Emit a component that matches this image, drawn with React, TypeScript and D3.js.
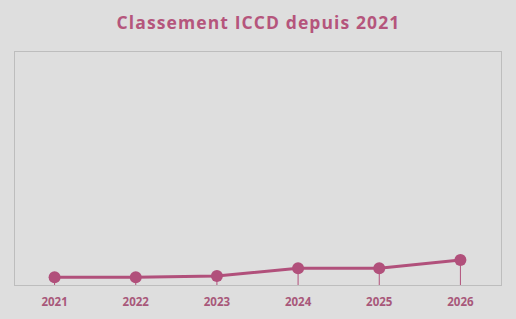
import React from "react";
import * as d3 from "d3";

const years = ["2021", "2022", "2023", "2024", "2025", "2026"];
const values = [3.3, 3.3, 3.8, 7.2, 7.2, 10.7];
const yDomain = [0, 100];
const title = "Classement ICCD depuis 2021";

export default function App() {
  const W = 516, H = 319;
  const left = 14, right = 501, top = 51, bottom = 285;
  const x = d3.scaleBand().domain(years).range([left, right]);
  const y = d3.scaleLinear().domain(yDomain).range([bottom, top]);
  const cx = (d: string) => (x(d) as number) + x.bandwidth() / 2;
  const line = d3.line<number>().x((_, i) => cx(years[i])).y((v) => y(v));
  const color = "#b1507b";
  return (
    <svg width={W} height={H} style={{ position: "absolute", left: 0, top: 0, display: "block" }}>
      <rect x={0} y={0} width={W} height={H} fill="#dedede" />
      <text x={W / 2 + 0.5} y={29} textAnchor="middle" fontFamily="'Open Sans', sans-serif" fontWeight="bold" fontSize={17.5} letterSpacing={1.1} fill="#b5557c">{title}</text>
      <rect x={left + 0.5} y={top + 0.5} width={right - left} height={bottom - top} fill="none" stroke="#bdbdbd" strokeWidth={1} />
      {years.map((yr, i) => (
        <line key={"d" + yr} x1={cx(yr)} x2={cx(yr)} y1={y(values[i])} y2={bottom} stroke={color} strokeWidth={1} />
      ))}
      <path d={line(values) || ""} fill="none" stroke={color} strokeWidth={3} />
      {years.map((yr, i) => (
        <circle key={"c" + yr} cx={cx(yr)} cy={y(values[i])} r={6} fill={color} />
      ))}
      {years.map((yr) => (
        <text key={"t" + yr} x={cx(yr)} y={306} textAnchor="middle" fontFamily="'Open Sans', sans-serif" fontWeight="bold" fontSize={11.5} fill="#a8587a">{yr}</text>
      ))}
    </svg>
  );
}
